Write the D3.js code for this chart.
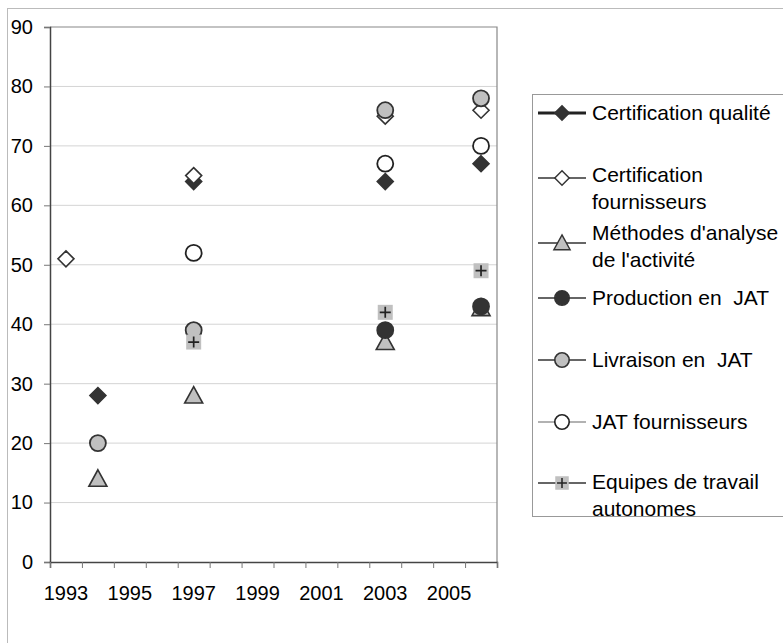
<!DOCTYPE html>
<html>
<head>
<meta charset="utf-8">
<script src="https://cdn.jsdelivr.net/npm/d3@7"></script>
<style>
  body { margin: 0; background: #fff; }
  text { font-family: "Liberation Sans", Arial, sans-serif; fill: #000; }
</style>
</head>
<body>
<script>
const years = d3.range(1993, 2007);
const yearLabels = [1993, 1995, 1997, 1999, 2001, 2003, 2005];
const yTicks = [0, 10, 20, 30, 40, 50, 60, 70, 80, 90];

const seriesNames = [
  ['Certification qualité'],
  ['Certification', 'fournisseurs'],
  ["Méthodes d'analyse", "de l'activité"],
  ['Production en  JAT'],
  ['Livraison en  JAT'],
  ['JAT fournisseurs'],
  ['Equipes de travail', 'autonomes']
];
const certQualite   = [[1994, 28], [1997, 64], [2003, 64], [2006, 67]];
const certFourn     = [[1993, 51], [1997, 65], [2003, 75], [2006, 76]];
const methodes      = [[1994, 14], [1997, 28], [2003, 37], [2006, 42.7]];
const productionJat = [[2003, 39], [2006, 43]];
const livraisonJat  = [[1994, 20], [1997, 39], [2003, 76], [2006, 78]];
const jatFourn      = [[1997, 52], [2003, 67], [2006, 70]];
const equipes       = [[1997, 37], [2003, 42], [2006, 49]];

const seriesData = [certQualite, certFourn, methodes, productionJat, livraisonJat, jatFourn, equipes];

// marker style per series
const styles = [
  {shape: 'diamond', fill: '#333', stroke: '#333', lw: 3, line: '#222'},
  {shape: 'diamond', fill: '#fff', stroke: '#333', lw: 1.3, line: '#333'},
  {shape: 'triangle', fill: '#c0c0c0', stroke: '#333', lw: 1.3, line: '#333'},
  {shape: 'circle', fill: '#333', stroke: '#333', lw: 1.3, line: '#333'},
  {shape: 'circle', fill: '#c0c0c0', stroke: '#333', lw: 1.3, line: '#333'},
  {shape: 'circle', fill: '#fff', stroke: '#222', lw: 1.3, line: '#999'},
  {shape: 'plus', fill: '#c0c0c0', stroke: '#222', lw: 1.3, line: '#333'}
];

const width = 783, height = 643;
const svg = d3.select('body').append('svg')
  .attr('width', width)
  .attr('height', height);

// outer chart frame
svg.append('rect')
  .attr('x', 7.5).attr('y', 8.5)
  .attr('width', 800).attr('height', 700)
  .attr('fill', 'none').attr('stroke', '#bbb');

const plot = {left: 50, right: 497, top: 27, bottom: 562};

const x = d3.scaleBand().domain(years).range([plot.left, plot.right]).padding(0);
const y = d3.scaleLinear().domain([0, 90]).range([plot.bottom, plot.top]);

// gridlines
svg.append('g')
  .selectAll('line')
  .data(yTicks.filter(d => d > 0 && d < 90))
  .enter().append('line')
  .attr('x1', plot.left).attr('x2', plot.right)
  .attr('y1', d => y(d)).attr('y2', d => y(d))
  .attr('stroke', '#d4d4d4').attr('stroke-width', 1);

// plot border top/right
svg.append('path')
  .attr('d', `M${plot.left},${plot.top}H${plot.right}V${plot.bottom}`)
  .attr('fill', 'none').attr('stroke', '#888').attr('stroke-width', 1.2);

// y axis
const yAxis = svg.append('g')
  .attr('transform', `translate(${plot.left},0)`)
  .call(d3.axisLeft(y).tickValues(yTicks).tickSize(6).tickPadding(11));
yAxis.select('.domain').attr('stroke', '#444').attr('stroke-width', 1.5);
yAxis.selectAll('.tick line').attr('stroke', '#777');
yAxis.selectAll('text')
  .style('font-size', '20px')
  .style('font-family', '"Liberation Sans", Arial, sans-serif')
  .attr('fill', '#000');

// x axis ticks at band edges
const edgeScale = d3.scaleLinear().domain([0, years.length]).range([plot.left, plot.right]);
const xTicks = svg.append('g')
  .attr('transform', `translate(0,${plot.bottom})`)
  .call(d3.axisBottom(edgeScale).tickValues(d3.range(0, years.length + 1)).tickSize(6).tickFormat(''));
xTicks.select('.domain').attr('stroke', '#444').attr('stroke-width', 1.5);
xTicks.selectAll('.tick line').attr('stroke', '#777');

// x labels centered in bands
svg.append('g')
  .selectAll('text')
  .data(yearLabels)
  .enter().append('text')
  .attr('x', d => x(d) + x.bandwidth() / 2)
  .attr('y', 600)
  .attr('text-anchor', 'middle')
  .style('font-size', '20px')
  .text(d => d);

function drawMarker(g, st) {
  if (st.shape === 'diamond') {
    g.append('path').attr('d', 'M0,-8L8,0L0,8L-8,0Z')
      .attr('fill', st.fill).attr('stroke', st.stroke).attr('stroke-width', 1.6);
  } else if (st.shape === 'triangle') {
    g.append('path').attr('d', 'M0,-9L9,7.5L-9,7.5Z')
      .attr('fill', st.fill).attr('stroke', st.stroke).attr('stroke-width', 1.6);
  } else if (st.shape === 'circle') {
    g.append('circle').attr('r', 8)
      .attr('fill', st.fill).attr('stroke', st.stroke).attr('stroke-width', 1.8);
  } else {
    g.append('rect').attr('x', -7.5).attr('y', -7.5).attr('width', 15).attr('height', 15)
      .attr('fill', st.fill);
    g.append('path').attr('d', 'M-5.5,0H5.5M0,-5.5V5.5')
      .attr('stroke', st.stroke).attr('stroke-width', 1.7);
  }
}

// points
seriesData.forEach((data, i) => {
  const st = styles[i];
  svg.append('g').attr('class', 'series' + i)
    .selectAll('g')
    .data(data)
    .enter().append('g')
    .attr('transform', d => `translate(${x(d[0]) + x.bandwidth() / 2},${y(d[1])})`)
    .each(function() { drawMarker(d3.select(this), st); });
});

// legend
svg.append('rect')
  .attr('x', 532.5).attr('y', 94.5)
  .attr('width', 300).attr('height', 422)
  .attr('fill', '#fff').attr('stroke', '#999');

const legendY = [113, 175, 233, 298, 360, 422, 482];
const markerOffset = [0, 3, 10, 0, 0, 0, 1];
seriesNames.forEach((lines, i) => {
  const st = styles[i];
  const ly = legendY[i] + markerOffset[i];
  svg.append('line')
    .attr('x1', 538).attr('x2', 586)
    .attr('y1', ly).attr('y2', ly)
    .attr('stroke', st.line).attr('stroke-width', st.lw);
  drawMarker(svg.append('g').attr('transform', `translate(562,${ly}) scale(0.9)`), st);
  const t = svg.append('text')
    .attr('x', 592).attr('y', legendY[i] + 7)
    .style('font-size', '21px')
    .style('white-space', 'pre');
  lines.forEach((l, j) => {
    t.append('tspan').attr('x', 592).attr('dy', j === 0 ? 0 : 27).text(l);
  });
});
</script>
</body>
</html>
